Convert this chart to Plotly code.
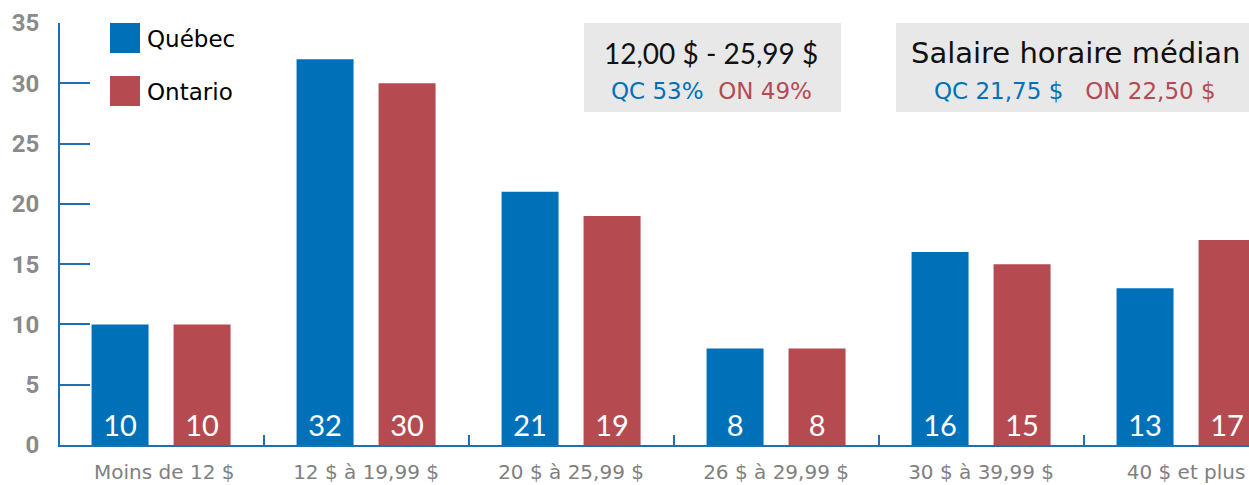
import plotly.graph_objects as go

categories = ["Moins de 12 $", "12 $ à 19,99 $", "20 $ à 25,99 $", "26 $ à 29,99 $", "30 $ à 39,99 $", "40 $ et plus"]
tick_labels = ["&nbsp;Moins de 12 $", "12 $ à 19,99 $", "20 $ à 25,99 $", "26 $ à 29,99 $", "30 $ à 39,99 $", "40 $ et plus"]
quebec = [10, 32, 21, 8, 16, 13]
ontario = [10, 30, 19, 8, 15, 17]
y_ticks = [0, 5, 10, 15, 20, 25, 30, 35]

BLUE = "#0071b8"
RED = "#b54b50"
AXIS = "#1f6fb2"

W, H = 1249, 485
L, R, T, B = 60, 0, 23, 40

LABEL_FONT = dict(color="white", size=29, family="Lato, sans-serif")

fig = go.Figure()
bar_w = 0.278
fig.add_trace(go.Bar(
    x=categories, y=quebec, name="Québec", marker=dict(color=BLUE, line=dict(width=0)),
    width=bar_w, offset=-0.339,
    text=[str(v) for v in quebec], textposition="inside", insidetextanchor="start",
    textangle=0, constraintext="none", insidetextfont=LABEL_FONT,
    showlegend=False, hoverinfo="skip",
))
fig.add_trace(go.Bar(
    x=categories, y=ontario, name="Ontario", marker=dict(color=RED, line=dict(width=0)),
    width=bar_w, offset=0.061,
    text=[str(v) for v in ontario], textposition="inside", insidetextanchor="start",
    textangle=0, constraintext="none", insidetextfont=LABEL_FONT,
    showlegend=False, hoverinfo="skip",
))

pw = W - L - R
ph = H - T - B

def px2x(px):  # screen px -> paper
    return (px - L) / pw

def px2y(py):
    return (H - B - py) / ph

shapes = []
annotations = []

# legend
for i, (name, col) in enumerate([("Québec", BLUE), ("Ontario", RED)]):
    y0 = 23 + i * 53
    shapes.append(dict(type="rect", xref="paper", yref="paper",
                       x0=px2x(110), x1=px2x(140), y0=px2y(y0 + 30), y1=px2y(y0),
                       fillcolor=col, line=dict(width=0), layer="above"))
    annotations.append(dict(xref="paper", yref="paper", x=px2x(145), y=px2y(y0 + 16),
                            xanchor="left", yanchor="middle", showarrow=False,
                            text=name, font=dict(size=23, color="black", family="DejaVu Sans, sans-serif")))

# info boxes
boxes = [
    (584, 841, 711, "12,00 $ - 25,99 $", "Lato, sans-serif", 28, "QC 53%", "ON 49%", "&nbsp;&nbsp;"),
    (896, 1260, 1075, "Salaire horaire médian", "DejaVu Sans, sans-serif", 29, "QC 21,75 $", "ON 22,50 $", "&nbsp;&nbsp;&nbsp;"),
]
for x0, x1, cx, title, tfam, tsize, qc, on, sep in boxes:
    shapes.append(dict(type="rect", xref="paper", yref="paper",
                       x0=px2x(x0), x1=px2x(x1), y0=px2y(112), y1=px2y(23),
                       fillcolor="#e8e8e8", line=dict(width=0), layer="below"))
    annotations.append(dict(xref="paper", yref="paper", x=px2x(cx), y=px2y(53),
                            xanchor="center", yanchor="middle", showarrow=False,
                            text=title, font=dict(size=tsize, color="#111111", family=tfam)))
    annotations.append(dict(xref="paper", yref="paper", x=px2x(cx), y=px2y(91),
                            xanchor="center", yanchor="middle", showarrow=False,
                            text=f"<span style='color:{BLUE}'>{qc}</span>{sep}<span style='color:{RED}'>{on}</span>",
                            font=dict(size=23, family="DejaVu Sans, sans-serif")))

fig.update_layout(
    width=W, height=H,
    margin=dict(l=L, r=R, t=T, b=B, pad=0, autoexpand=False),
    paper_bgcolor="white", plot_bgcolor="white",
    barmode="overlay", hovermode=False,
    shapes=shapes, annotations=annotations,
    xaxis=dict(
        type="category", range=[-0.493, 5.307], automargin=False,
        tickvals=categories, ticktext=tick_labels,
        tickson="boundaries", ticks="inside", ticklen=10, tickwidth=2, tickcolor=AXIS,
        showline=True, linecolor=AXIS, linewidth=2,
        showgrid=False, zeroline=False, ticklabelstandoff=8,
        tickfont=dict(size=20, color="#808080", family="DejaVu Sans, sans-serif"),
    ),
    yaxis=dict(
        range=[0, 35], tickvals=y_ticks, ticktext=[str(v) for v in y_ticks], automargin=False,
        ticks="inside", ticklen=30, tickwidth=2, tickcolor=AXIS,
        showline=True, linecolor=AXIS, linewidth=2,
        showgrid=False, zeroline=False, ticklabelstandoff=14,
        tickfont=dict(size=24, color="#8a8a8a", family="Roboto, sans-serif", weight="bold"),
    ),
)

fig.write_html("out.html", config={"displayModeBar": False},
               post_script="document.body.style.margin='0';document.body.style.overflow='hidden';")
